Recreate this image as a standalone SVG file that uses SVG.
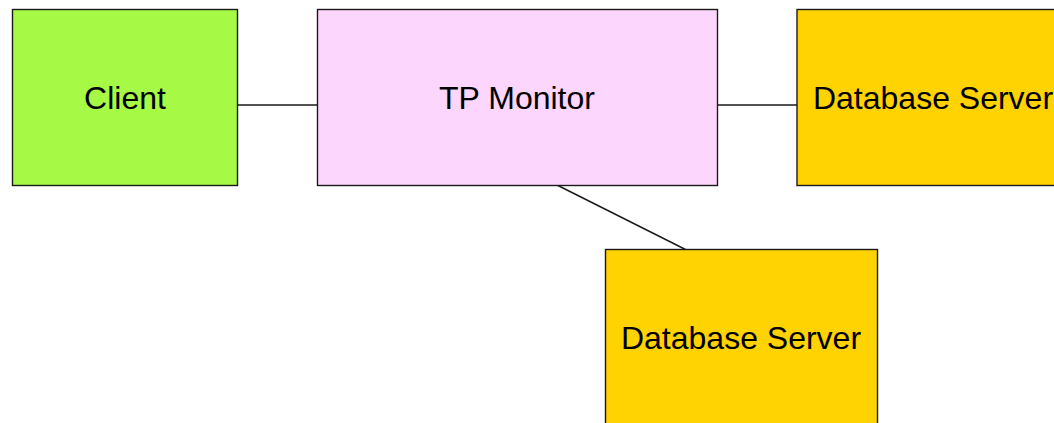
<svg xmlns="http://www.w3.org/2000/svg" width="1054" height="423" viewBox="0 0 1054 423">
<style>
.box{stroke:#1a1a1a;stroke-width:1.4}
.lbl{font-family:"Liberation Sans",Arial,sans-serif;font-size:32px;fill:#000;text-anchor:middle}
.conn{stroke:#1a1a1a;stroke-width:1.4;fill:none}
</style>
<rect width="1054" height="423" fill="#fff"/>
<g id="connectors">
<line class="conn" x1="237.5" y1="105" x2="317.5" y2="105"/>
<line class="conn" x1="717.5" y1="105" x2="797" y2="105"/>
<line class="conn" x1="557" y1="185" x2="685.5" y2="249.5"/>
</g>
<g id="client">
<rect class="box" x="12.5" y="9.5" width="225" height="176" fill="#a6f945"/>
<text class="lbl" x="125" y="109">Client</text>
</g>
<g id="tpmonitor">
<rect class="box" x="317.5" y="9.5" width="400" height="176" fill="#fdd6fd"/>
<text class="lbl" x="517" y="109">TP Monitor</text>
</g>
<g id="dbserver1">
<rect class="box" x="797" y="9.5" width="272" height="176" fill="#ffd301"/>
<text class="lbl" x="933" y="109">Database Server</text>
</g>
<g id="dbserver2">
<rect class="box" x="605.5" y="249.5" width="272" height="176" fill="#ffd301"/>
<text class="lbl" x="741" y="348.5">Database Server</text>
</g>
</svg>
